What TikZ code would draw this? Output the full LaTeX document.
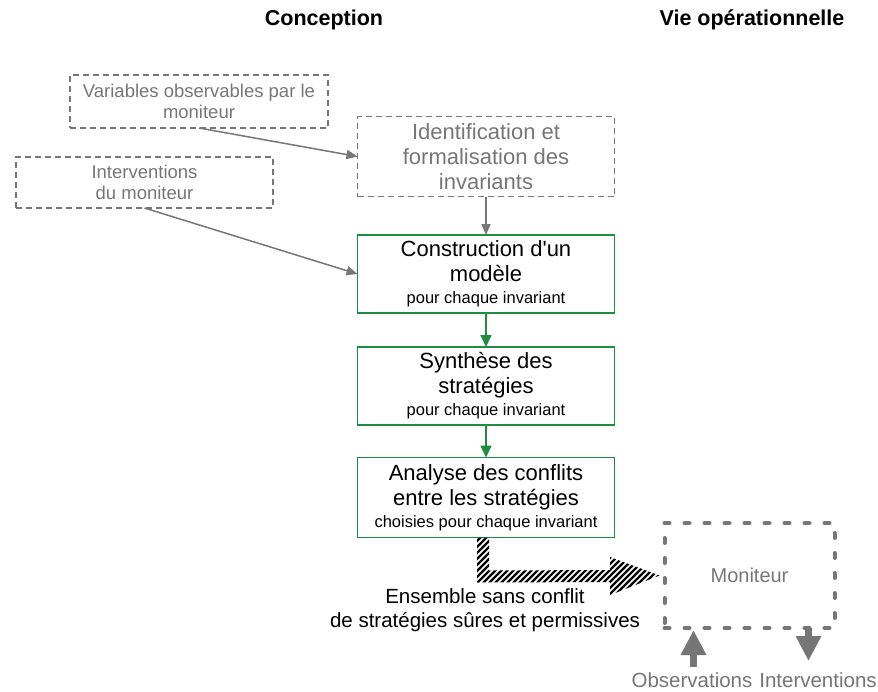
\documentclass[tikz,border=0pt]{standalone}
\usepackage{fontspec}
\setmainfont{Liberation Sans}
\usetikzlibrary{arrows.meta,calc}
\definecolor{grayc}{RGB}{118,118,118}
\definecolor{greenc}{RGB}{30,140,65}
\begin{document}
\begin{tikzpicture}[x=1pt,y=-1pt,
  title/.style={font=\fontsize{21.5}{26}\selectfont\bfseries, text=black},
  graybox/.style={draw=grayc, line width=1.5pt, dash pattern=on 6pt off 4pt, inner sep=0pt, outer sep=0pt,
    text=grayc, align=center, font=\fontsize{18.5}{21}\selectfont},
  stepbig/.style={line width=1.5pt, inner sep=0pt, outer sep=0pt, minimum width=257pt, minimum height=78pt,
    align=center, font=\fontsize{22}{25}\selectfont},
  greenbox/.style={stepbig, draw=greenc, text=black},
  identbox/.style={stepbig, draw=grayc, dash pattern=on 6pt off 4pt, text=grayc},
  thinarrow/.style={draw=grayc, line width=1.5pt, -{Triangle[length=11pt,width=9pt]}},
  greenarrow/.style={draw=greenc, line width=1.6pt, -{Triangle[length=12pt,width=11pt]}},
  bigarrow/.style={draw=grayc, line width=7pt, -{Triangle[length=25pt,width=24pt]}},
  monbox/.style={draw=grayc, line width=4pt, dash pattern=on 5pt off 15pt, line cap=round,
    minimum width=170pt, minimum height=105pt, inner sep=0pt, outer sep=0pt, text=grayc,
    font=\fontsize{20}{24}\selectfont},
  graylabel/.style={text=grayc, font=\fontsize{20.5}{24}\selectfont, inner sep=0pt},
  blacklabel/.style={text=black, align=center, font=\fontsize{20.5}{24}\selectfont, inner sep=0pt},
  hatchline/.style={draw=black, line width=2.4pt}
]
\useasboundingbox (0,0) rectangle (878,691);

\node[title] (t1) at (324,20) {Conception};
\node[title] (t2) at (752,20) {Vie opérationnelle};

\node[graybox, minimum width=258pt, minimum height=53pt] (var) at (199,101.5)
  {Variables observables par le\\moniteur};
\node[graybox, minimum width=257pt, minimum height=51pt] (interv) at (144.5,182.5)
  {Interventions\\du moniteur};

\node[identbox, minimum height=80pt] (ident) at (486,156.5)
  {Identification et\\formalisation des\\invariants};
\node[greenbox] (constr) at (486,274)
  {Construction d\textquotesingle un\\modèle\\[-3pt]{\fontsize{16.5}{19}\selectfont pour chaque invariant}};
\node[greenbox] (synth) at (486,386)
  {Synthèse des\\stratégies\\[-3pt]{\fontsize{16.5}{19}\selectfont pour chaque invariant}};
\node[greenbox, minimum height=80pt] (analyse) at (486,497.5)
  {Analyse des conflits\\entre les stratégies\\[-3pt]{\fontsize{16.5}{19}\selectfont choisies pour chaque invariant}};

\draw[thinarrow] (var.south) -- (ident.west);
\draw[thinarrow] (interv.south) -- (constr.west);
\draw[thinarrow] (ident.south) -- (constr.north);
\draw[greenarrow] (constr.south) -- (synth.north);
\draw[greenarrow] (synth.south) -- (analyse.north);

\node[monbox] (mon) at (749.5,575.5) {Moniteur};

% hatched arrow
\begin{scope}
  \clip ($(analyse.south)+(-9,0)$) -- ($(analyse.south)+(-9,45)$) -- (610,582) -- (610,595)
    -- ($(mon.west)+(-5,0)$) -- (610,557) -- (610,570) -- ($(analyse.south)+(3,33)$)
    -- ($(analyse.south)+(3,0)$) -- cycle;
  \foreach \k in {-80,-74,...,220}
    \draw[hatchline] (470+\k,610) -- (560+\k,520);
\end{scope}

\node[blacklabel] (ens) at (485,610) {Ensemble sans conflit\\de stratégies sûres et permissives};

\node[graylabel] (obs) at (692,680) {Observations};
\node[graylabel] (intl) at (818,680) {Interventions};

\coordinate (upbot) at ($(mon.south west)+(29,39)$);
\coordinate (uptop) at ($(mon.south west)+(29,2)$);
\coordinate (dntop) at ($(mon.south west)+(144,0)$);
\coordinate (dnbot) at ($(mon.south west)+(144,33)$);
\draw[bigarrow] (upbot) -- (uptop);
\draw[bigarrow] (dntop) -- (dnbot);
\end{tikzpicture}
\end{document}
